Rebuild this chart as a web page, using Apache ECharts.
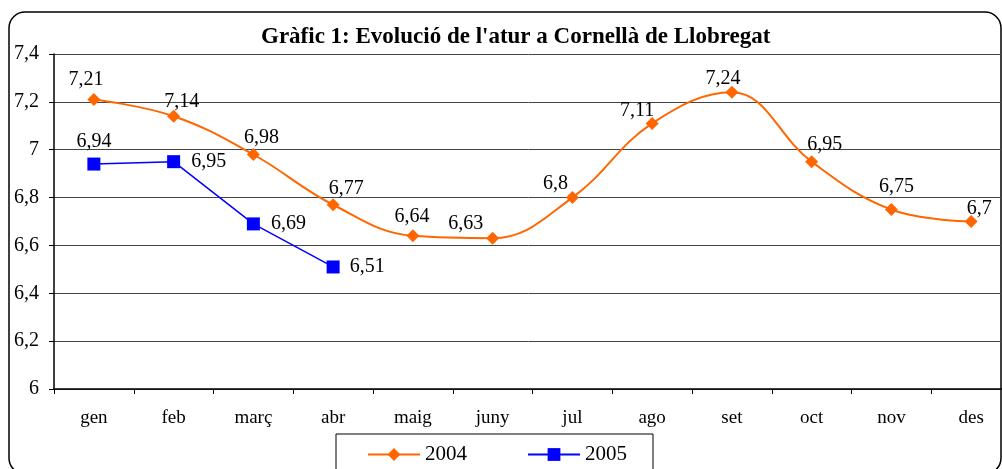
<!DOCTYPE html>
<html>
<head>
<meta charset="utf-8">
<script src="https://cdn.jsdelivr.net/npm/echarts@6/dist/echarts.min.js"></script>
<style>
  html, body { margin: 0; padding: 0; background: #fff; }
  #chart { width: 1002px; height: 469px; }
</style>
</head>
<body>
<div id="chart"></div>
<script>
const months = ['gen', 'feb', 'març', 'abr', 'maig', 'juny', 'jul', 'ago', 'set', 'oct', 'nov', 'des']
const atur2004 = [7.21, 7.14, 6.98, 6.77, 6.64, 6.63, 6.8, 7.11, 7.24, 6.95, 6.75, 6.7]
const atur2005 = [6.94, 6.95, 6.69, 6.51]

// label offsets from each marker centre, as Excel placed them
const offsets2004 = [[-8, -20], [8, -14], [8, -17], [13, -16], [-1, -19], [-27, -15],
  [-17, -14], [-15, -13], [-9, -14], [13, -17], [5, -23], [8, -13]]
const offsets2005 = [[0, -22], [35, 0], [35, 0], [34, 0]]

const serif = 'Liberation Serif, Times New Roman, serif'
const comma = v => String(v).replace('.', ',')

function placeLabel(offsets) {
  return p => {
    const o = offsets[p.dataIndex]
    return {
      x: p.rect.x + p.rect.width / 2 + o[0],
      y: p.rect.y + p.rect.height / 2 + o[1],
      align: 'center',
      verticalAlign: 'middle',
    }
  }
}

const chart = echarts.init(document.getElementById('chart'))
const option = {
  animation: false,
  title: {
    text: "Gràfic 1: Evolució de l'atur a Cornellà de Llobregat",
    left: 256,
    top: 21,
    textStyle: { fontFamily: serif, fontSize: 23, fontWeight: 'bold', color: '#000' },
  },
  graphic: [
    {
      type: 'rect',
      shape: { x: 9, y: 12, width: 992, height: 462, r: 16 },
      style: { fill: 'none', stroke: '#000', lineWidth: 1.5 },
      z: -1,
    },
  ],
  legend: {
    top: 434,
    left: 336,
    padding: [10, 26, 30, 31],
    itemGap: 60,
    itemWidth: 52,
    itemHeight: 16,
    borderColor: '#000',
    borderWidth: 1,
    textStyle: { fontFamily: serif, fontSize: 21, color: '#000' },
    data: ['2004', '2005'],
  },
  grid: { left: 54, width: 957, top: 54, bottom: 80, outerBoundsMode: 'none' },
  xAxis: {
    type: 'category',
    data: months,
    boundaryGap: true,
    axisLine: { lineStyle: { color: '#000', width: 1.5 } },
    axisTick: { show: true, length: 5, lineStyle: { color: '#000' } },
    axisLabel: { fontFamily: serif, fontSize: 19, color: '#000', margin: 20 },
  },
  yAxis: {
    type: 'value',
    min: 6,
    max: 7.4,
    interval: 0.2,
    axisLine: { show: true, lineStyle: { color: '#000', width: 1.5 } },
    axisTick: { show: true, length: 5, lineStyle: { color: '#000' } },
    axisLabel: { fontFamily: serif, fontSize: 20, color: '#000', margin: 15, formatter: v => comma(+v.toFixed(1)) },
    splitLine: { lineStyle: { color: '#444', width: 1 } },
  },
  series: [
    {
      name: '2004',
      type: 'line',
      data: atur2004,
      smooth: 0.4,
      color: '#FF6600',
      lineStyle: { width: 2 },
      symbol: 'diamond',
      symbolSize: 13,
      label: {
        show: true,
        fontFamily: serif,
        fontSize: 20,
        color: '#000',
        formatter: p => comma(p.value),
      },
      labelLayout: placeLabel(offsets2004),
    },
    {
      name: '2005',
      type: 'line',
      data: atur2005,
      color: '#0000FF',
      lineStyle: { width: 1.5 },
      symbol: 'rect',
      symbolSize: 13,
      label: {
        show: true,
        fontFamily: serif,
        fontSize: 20,
        color: '#000',
        formatter: p => comma(p.value),
      },
      labelLayout: placeLabel(offsets2005),
    },
  ],
}
chart.setOption(option)
</script>
</body>
</html>
